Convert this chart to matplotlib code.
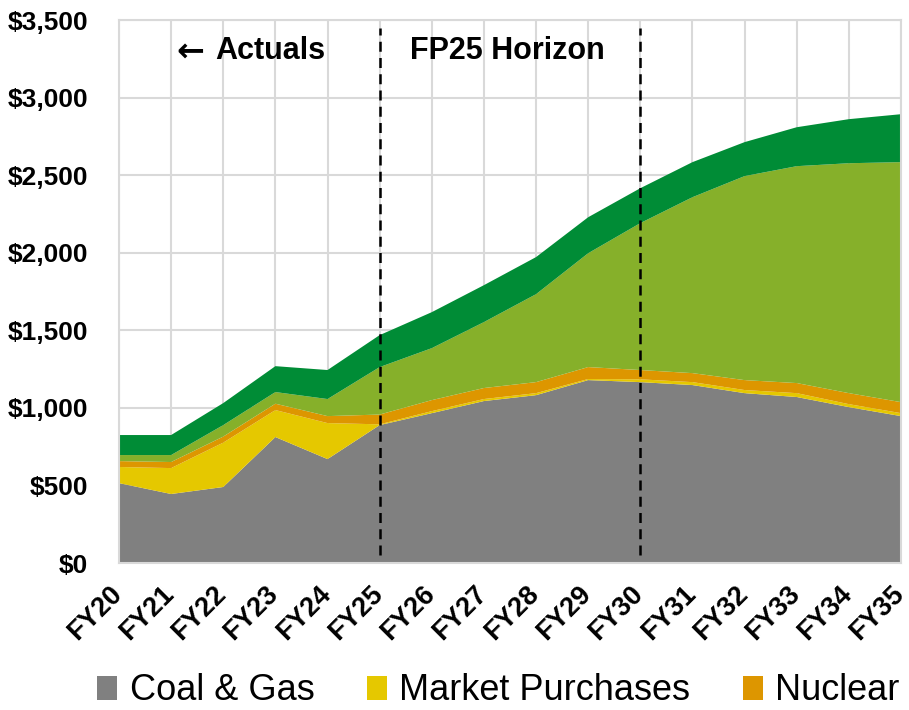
import numpy as np
import matplotlib
matplotlib.use("Agg")
import matplotlib.pyplot as plt
import matplotlib.transforms as mtransforms
from matplotlib.patches import Patch
from matplotlib.ticker import FuncFormatter, MultipleLocator

plt.rcParams['font.family'] = ['Liberation Sans', 'DejaVu Sans']

# data ($, stacked)
years = ['FY20', 'FY21', 'FY22', 'FY23', 'FY24', 'FY25', 'FY26', 'FY27',
         'FY28', 'FY29', 'FY30', 'FY31', 'FY32', 'FY33', 'FY34', 'FY35']
coal_gas = [515, 445, 490, 812, 670, 889, 966, 1044, 1082, 1179, 1166, 1147, 1095, 1070, 1005, 947]
market = [104, 167, 286, 174, 232, 5, 13, 13, 13, 7, 18, 19, 20, 25, 19, 19]
nuclear = [38, 39, 39, 41, 45, 63, 71, 71, 71, 77, 60, 58, 64, 65, 71, 71]
green_light = [39, 45, 74, 75, 110, 306, 335, 425, 567, 734, 947, 1134, 1315, 1398, 1482, 1547]
green_dark = [129, 129, 142, 167, 187, 206, 232, 238, 239, 232, 225, 226, 219, 251, 284, 309]

colors = ['#808080', '#E5C800', '#DD9600', '#86B02A', '#008C36']
labels = ['Coal & Gas', 'Market Purchases', 'Nuclear']

x = np.arange(len(years))

fig = plt.figure(figsize=(9.09, 7.10), dpi=100)
ax = fig.add_axes([0.1309, 0.2070, 0.8603, 0.7648])

ax.stackplot(x, coal_gas, market, nuclear, green_light, green_dark,
             colors=colors, linewidth=0, zorder=2)

ax.set_xlim(0, len(years) - 1)
ax.set_ylim(0, 3500)
ax.yaxis.set_major_locator(MultipleLocator(500))
ax.yaxis.set_major_formatter(FuncFormatter(lambda v, p: '${:,.0f}'.format(v)))
ax.set_xticks(x)
ax.set_xticklabels(years, rotation=45, ha='right', rotation_mode='anchor')
ax.tick_params(length=0, labelsize=19)
ax.tick_params(axis='y', pad=22)
ax.tick_params(axis='x', pad=13)
shift = mtransforms.ScaledTranslation(-10 / 100, 0, fig.dpi_scale_trans)
for t in ax.get_xticklabels():
    t.set_fontweight('bold')
    t.set_fontsize(19.5)
    t.set_transform(t.get_transform() + shift)
for t in ax.get_yticklabels():
    t.set_fontweight('bold')

ax.grid(True, color='#d9d9d9', linewidth=1.5, zorder=1)
ax.set_axisbelow(True)
for s in ax.spines.values():
    s.set_color('#d9d9d9')
    s.set_linewidth(1.5)

# horizon markers
for xv in [5, 10]:
    ax.plot([xv, xv], [50, 3450], color='black', linestyle=(0, (4, 2.5)),
            linewidth=1.8, zorder=3)

ax.text(1.1, 3300, '\u2190', fontsize=24, fontweight='bold', va='center', ha='left',
        family='DejaVu Sans')
ax.text(1.84, 3300, 'Actuals', fontsize=22, fontweight='bold', va='center', ha='left')
ax.text(5.58, 3300, 'FP25 Horizon', fontsize=22, fontweight='bold', va='center', ha='left')

handles = [Patch(facecolor=c) for c in colors[:3]]
fig.legend(handles, labels, loc='center left', bbox_to_anchor=(0.107, 0.027),
           ncol=3, frameon=False, fontsize=26, handlelength=0.55, handleheight=0.65,
           handletextpad=0.35, columnspacing=1.45, borderaxespad=0, borderpad=0)

fig.savefig('out.png', dpi=100)
